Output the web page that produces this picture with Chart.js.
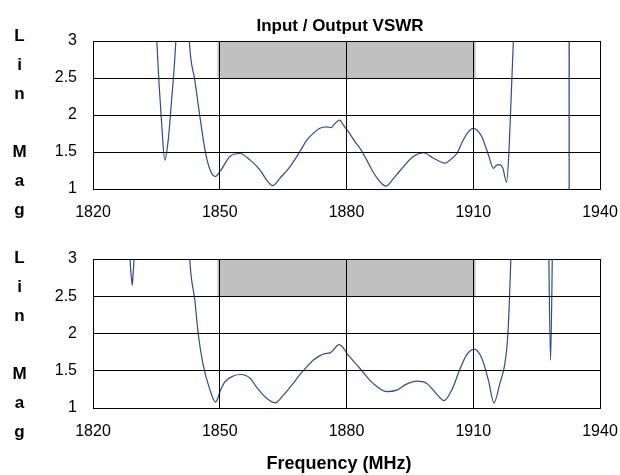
<!DOCTYPE html>
<html>
<head>
<meta charset="utf-8">
<script src="https://cdn.jsdelivr.net/npm/chart.js@4.4.1/dist/chart.umd.min.js"></script>
<style>
  body { margin: 0; background: #fff; }
  #page { position: relative; width: 620px; height: 475px; overflow: hidden; font-family: 'Liberation Sans', Arial, sans-serif; color: #000; }
  canvas { position: absolute; left: 0; }
  #topChart { top: 0; }
  #botChart { top: 230px; }
  .stack { position: absolute; left: 8px; width: 23px; text-align: center; font-weight: bold; font-size: 17px; line-height: 29px; white-space: pre; }
  #title { position: absolute; left: 0; width: 680px; top: 16px; text-align: center; font-weight: bold; font-size: 17px; line-height: 20px; }
  #xTitle { position: absolute; left: 0; width: 678px; top: 453px; text-align: center; font-weight: bold; font-size: 18px; line-height: 20px; }
</style>
</head>
<body>
<div id="page">
  <canvas id="topChart" width="620" height="230"></canvas>
  <canvas id="botChart" width="620" height="245"></canvas>
  <div id="title">Input / Output VSWR</div>
  <div class="stack" style="top:21px">L
i
n

M
a
g</div>
  <div class="stack" style="top:243px">L
i
n

M
a
g</div>
  <div id="xTitle">Frequency (MHz)</div>
</div>
<script>
// axis ticks
const xTicks = [1820, 1850, 1880, 1910, 1940];
const yTicks = [1, 1.5, 2, 2.5, 3];

// shaded spec band (MHz / VSWR)
const bandFreq = [1849.4, 1910.6];
const bandTop = 3;
const bandBottom = 2.5;

// input VSWR trace (top panel)
const topFreq = [1834.7, 1835.1, 1836.3, 1837.0, 1837.8, 1838.6, 1839.6, 1840.0, 1842.4, 1842.8,
  1844.1, 1845.3, 1846.5, 1847.7, 1848.9, 1850.1, 1852.4, 1854.8, 1857.2, 1859.5,
  1861.1, 1862.5, 1864.3, 1866.6, 1869.0, 1870.6, 1872.1, 1873.7, 1875.3, 1876.4,
  1876.9, 1877.7, 1878.4, 1879.3, 1880.4, 1882.0, 1883.2, 1884.8, 1886.3, 1887.9,
  1889.3, 1891.1, 1892.7, 1895.8, 1898.2, 1900.5, 1903.3, 1904.9, 1906.1, 1907.6,
  1908.8, 1910.0, 1910.8, 1912.0, 1913.6, 1914.8, 1915.5, 1916.2, 1917.0, 1917.9,
  1918.5, 1919.1, 1919.5, 1920.0, 1932.68, 1932.70, 1932.72, 1940];
const topVswr = [3.6, 3.0, 1.84, 1.39, 1.66, 2.2, 2.99, 3.6, 3.6, 3.0,
  2.47, 1.98, 1.53, 1.26, 1.17, 1.24, 1.44, 1.48, 1.39, 1.26,
  1.12, 1.045, 1.15, 1.30, 1.51, 1.66, 1.75, 1.82, 1.84, 1.83,
  1.86, 1.91, 1.93, 1.86, 1.78, 1.64, 1.55, 1.39, 1.23, 1.10,
  1.04, 1.14, 1.25, 1.44, 1.49, 1.42, 1.35, 1.41, 1.48, 1.66,
  1.77, 1.82, 1.80, 1.71, 1.46, 1.28, 1.32, 1.33, 1.28, 1.09,
  1.57, 2.43, 3.0, 3.6, 3.6, 0.5, 3.6, 3.6];

// output VSWR trace (bottom panel)
const botFreq = [1828.6, 1828.8, 1829.1, 1829.3, 1829.5, 1829.7, 1829.9, 1842.5, 1842.9, 1844.1,
  1844.9, 1846.0, 1847.7, 1849.0, 1850.2, 1851.2, 1853.2, 1855.0, 1857.2, 1858.7,
  1861.1, 1863.1, 1865.0, 1867.4, 1869.0, 1871.4, 1872.1, 1874.9, 1876.1, 1878.3,
  1880.4, 1883.2, 1886.3, 1889.5, 1891.9, 1894.2, 1896.6, 1899.0, 1901.3, 1903.1,
  1904.9, 1906.9, 1908.4, 1910.2, 1912.0, 1913.6, 1914.9, 1916.3, 1917.5, 1918.1,
  1918.5, 1918.9, 1919.3, 1927.8, 1927.9, 1928.3, 1928.7, 1928.8, 1940];
const botVswr = [3.6, 3.0, 2.75, 2.65, 2.8, 3.0, 3.6, 3.6, 3.0, 2.45,
  2.0, 1.6, 1.24, 1.08, 1.24, 1.35, 1.43, 1.45, 1.40, 1.28,
  1.13, 1.07, 1.17, 1.33, 1.45, 1.60, 1.64, 1.73, 1.74, 1.85,
  1.71, 1.53, 1.33, 1.22, 1.24, 1.32, 1.36, 1.33, 1.19, 1.10,
  1.24, 1.53, 1.71, 1.79, 1.67, 1.37, 1.07, 1.33, 1.60, 1.91,
  2.36, 3.0, 3.6, 3.6, 3.0, 1.64, 3.0, 3.6, 3.6];

const TICK_FONT = { family: "'Liberation Sans', Arial, sans-serif", size: 16 };
const TRACE = '#2f4a8e';

function toPoints(xs, ys) {
    return xs.map((x, i) => ({ x: x, y: ys[i] }));
}

function makePanel(id, freq, vswr, padTop, xHeight) {
    const ctx = document.getElementById(id);
    return new Chart(ctx, {
        type: 'line',
        data: {
            datasets: [
                {
                    data: toPoints(freq, vswr),
                    borderColor: TRACE,
                    borderWidth: 1.2,
                    pointRadius: 0,
                    cubicInterpolationMode: 'monotone',
                    fill: false,
                    order: 1
                },
                {
                    data: toPoints(bandFreq, [bandTop, bandTop]),
                    borderWidth: 0,
                    pointRadius: 0,
                    backgroundColor: '#c0c0c0',
                    fill: { value: bandBottom },
                    order: 2
                }
            ]
        },
        options: {
            responsive: false,
            animation: false,
            events: [],
            layout: { padding: { top: padTop, right: 20, bottom: 0, left: 0 } },
            plugins: { legend: { display: false }, tooltip: { enabled: false } },
            scales: {
                x: {
                    type: 'linear',
                    min: xTicks[0],
                    max: xTicks[xTicks.length - 1],
                    afterBuildTicks: (s) => { s.ticks = xTicks.map(v => ({ value: v })); },
                    afterFit: (s) => {
                        // fixed plot box: don't let the end labels push the edges in
                        s.height = xHeight;
                        s.paddingLeft = 0;
                        s.paddingRight = 0;
                    },
                    ticks: { color: '#000', padding: 14, maxRotation: 0, font: TICK_FONT, callback: (v) => String(v) },
                    grid: { color: '#000', lineWidth: 1, drawTicks: false, z: 1 },
                    border: { color: '#000', width: 1, z: 1 }
                },
                y: {
                    min: yTicks[0],
                    max: yTicks[yTicks.length - 1],
                    afterBuildTicks: (s) => { s.ticks = yTicks.map(v => ({ value: v })); },
                    afterFit: (s) => { s.width = 93; },
                    ticks: { color: '#000', padding: 16, font: TICK_FONT, callback: (v) => String(v) },
                    grid: { color: '#000', lineWidth: 1, drawTicks: false, z: 1 },
                    border: { color: '#000', width: 1, z: 1 }
                }
            }
        }
    });
}

makePanel('topChart', topFreq, topVswr, 41, 41);
makePanel('botChart', botFreq, botVswr, 29, 67);
</script>
</body>
</html>
